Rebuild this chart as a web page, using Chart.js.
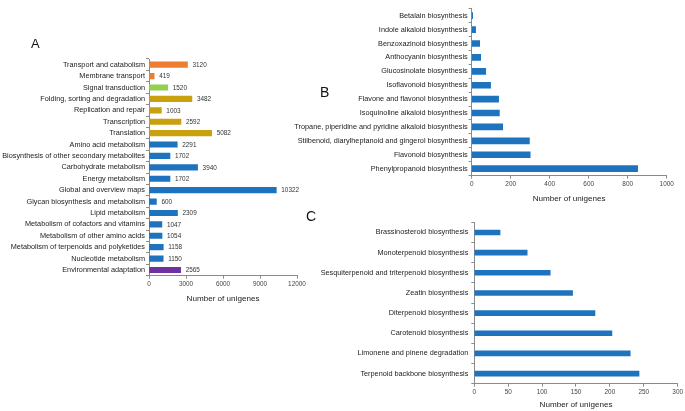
<!DOCTYPE html>
<html>
<head>
<meta charset="utf-8">
<script src="https://cdn.jsdelivr.net/npm/chart.js@4.4.1/dist/chart.umd.min.js"></script>
<style>
  html, body { margin: 0; padding: 0; background: #fff; }
  body { width: 685px; height: 411px; position: relative; overflow: hidden; font-family: "Liberation Sans", Arial, sans-serif; }
  canvas { position: absolute; }
  .letter { position: absolute; font-family: "Liberation Sans", Arial, sans-serif; line-height: 1; color: #111; }
</style>
</head>
<body>
<canvas id="cA" width="330" height="320" style="left:0;top:0;width:330px;height:320px"></canvas>
<canvas id="cB" width="405" height="215" style="left:280px;top:0;width:405px;height:215px"></canvas>
<canvas id="cC" width="405" height="196" style="left:280px;top:215px;width:405px;height:196px"></canvas>
<div class="letter" style="left:31px;top:37px;font-size:13px">A</div>
<div class="letter" style="left:320px;top:85px;font-size:14px">B</div>
<div class="letter" style="left:306px;top:209px;font-size:14px">C</div>
<script>
// ---------- Data ----------
const categoriesA = ['Transport and catabolism','Membrane transport','Signal transduction','Folding, sorting and degradation','Replication and repair','Transcription','Translation','Amino acid metabolism','Biosynthesis of other secondary metabolites','Carbohydrate metabolism','Energy metabolism','Global and overview maps','Glycan biosynthesis and metabolism','Lipid metabolism','Metabolism of cofactors and vitamins','Metabolism of other amino acids','Metabolism of terpenoids and polyketides','Nucleotide metabolism','Environmental adaptation'];
const valuesA = [3120, 419, 1520, 3482, 1003, 2592, 5082, 2291, 1702, 3940, 1702, 10322, 600, 2309, 1047, 1054, 1158, 1150, 2565];
const groupsA = ['cellular','cellular','env','genetic','genetic','genetic','genetic','metab','metab','metab','metab','metab','metab','metab','metab','metab','metab','metab','organismal'];
const ticksA = [0, 3000, 6000, 9000, 12000];

const categoriesB = ['Betalain biosynthesis','Indole alkaloid biosynthesis','Benzoxazinoid biosynthesis','Anthocyanin biosynthesis','Glucosinolate biosynthesis','Isoflavonoid biosynthesis','Flavone and flavonol biosynthesis','Isoquinoline alkaloid biosynthesis','Tropane, piperidine and pyridine alkaloid biosynthesis','Stilbenoid, diarylheptanoid and gingerol biosynthesis','Flavonoid biosynthesis','Phenylpropanoid biosynthesis'];
const valuesB = [5, 20, 41, 46, 72, 97, 138, 142, 159, 296, 300, 851];
const ticksB = [0, 200, 400, 600, 800, 1000];

const categoriesC = ['Brassinosteroid biosynthesis','Monoterpenoid biosynthesis','Sesquiterpenoid and triterpenoid biosynthesis','Zeatin biosynthesis','Diterpenoid biosynthesis','Carotenoid biosynthesis','Limonene and pinene degradation','Terpenoid backbone biosynthesis'];
const valuesC = [38, 78, 112, 145, 178, 203, 230, 243];
const ticksC = [0, 50, 100, 150, 200, 250, 300];

const axisTitle = 'Number of unigenes';

// ---------- Styles ----------
const groupColors = { cellular: '#ED7D31', env: '#92D050', genetic: '#C9A10F', metab: '#1E73BE', organismal: '#7030A0' };
const blue = '#1E73BE';
const FONT = '"Liberation Sans", Arial, sans-serif';
const axisColor = '#8a8a8a';

Chart.defaults.font.family = FONT;
Chart.defaults.animation = false;

const valueLabels = {
  id: 'valueLabels',
  afterDatasetsDraw(chart) {
    const ctx = chart.ctx;
    const meta = chart.getDatasetMeta(0);
    ctx.save();
    ctx.font = '6.4px ' + FONT;
    ctx.fillStyle = '#333';
    ctx.textAlign = 'left';
    ctx.textBaseline = 'middle';
    meta.data.forEach((bar, i) => {
      ctx.fillText(String(chart.data.datasets[0].data[i]), bar.x + 5, bar.y + 0.5);
    });
    ctx.restore();
  }
};

function makeChart(id, cats, vals, colors, tickVals, geom, thickness, plugins) {
  const max = tickVals[tickVals.length - 1];
  return new Chart(document.getElementById(id), {
    type: 'bar',
    data: { labels: cats, datasets: [{ data: vals, backgroundColor: colors, barThickness: thickness, borderWidth: 0 }] },
    options: {
      responsive: false,
      indexAxis: 'y',
      animation: false,
      layout: { padding: { left: 0, right: geom.right, top: geom.top, bottom: 0 } },
      plugins: { legend: { display: false }, tooltip: { enabled: false } },
      scales: {
        x: {
          min: 0, max: max,
          afterBuildTicks: (s) => { s.ticks = tickVals.map(v => ({ value: v })); },
          afterFit: (s) => { s.height = geom.xh; },
          grid: { drawOnChartArea: false, drawTicks: true, tickLength: 3, color: axisColor },
          border: { display: true, color: axisColor, width: 1 },
          ticks: { font: { size: 6.4 }, color: '#444', padding: geom.tickPad, maxRotation: 0, autoSkip: false,
                   callback: (v) => String(v) },
          title: { display: true, text: axisTitle, font: { size: 8.1 }, color: '#222', padding: { top: 0, bottom: geom.titlePad } }
        },
        y: {
          afterFit: (s) => { s.width = geom.yw; },
          grid: { drawOnChartArea: false, drawTicks: true, tickLength: 3, color: axisColor, offset: true },
          border: { display: true, color: axisColor, width: 1 },
          ticks: { font: { size: 7.3 }, color: '#222', padding: geom.yPad, autoSkip: false }
        }
      }
    },
    plugins: plugins || []
  });
}

makeChart('cA', categoriesA, valuesA, groupsA.map(g => groupColors[g]), ticksA,
  { right: 33, top: 59, xh: 44.3, titlePad: 15.9, tickPad: 2, yw: 149, yPad: 1 }, 5.5, [valueLabels]);
makeChart('cB', categoriesB, valuesB, blue, ticksB,
  { right: 18.3, top: 8.75, xh: 39.4, titlePad: 10.9, tickPad: 2, yw: 191.7, yPad: 1 }, 6, []);
makeChart('cC', categoriesC, valuesC, blue, ticksC,
  { right: 7.3, top: 5.5, xh: 27.3, titlePad: 0.9, tickPad: 2, yw: 194.3, yPad: 3 }, 5, []);
</script>
</body>
</html>
